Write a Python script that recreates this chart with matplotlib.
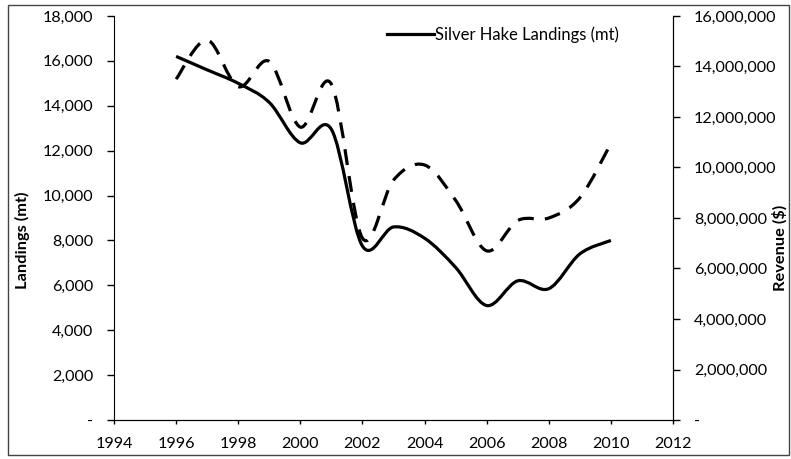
import numpy as np
import matplotlib
matplotlib.use("Agg")
import matplotlib.pyplot as plt
from matplotlib.path import Path
from matplotlib.patches import PathPatch, Rectangle
from matplotlib.lines import Line2D
from matplotlib.ticker import FuncFormatter

plt.rcParams['font.family'] = ['Lato', 'DejaVu Sans']

# data
years = [1996, 1997, 1998, 1999, 2000, 2001, 2002, 2003, 2004, 2005, 2006, 2007, 2008, 2009, 2010]
landings = [16200, 15600, 15000, 14150, 12350, 12950, 7750, 8600, 8100, 6800, 5100, 6200, 5850, 7400, 8000]
revenue = [13.5e6, 15.05e6, 13.2e6, 14.2e6, 11.6e6, 13.3e6, 7.2e6, 9.5e6, 10.1e6, 8.7e6, 6.7e6, 7.9e6, 8.0e6, 8.8e6, 10.95e6]
legend_label = "Silver Hake Landings (mt)"


def smooth_path(xs, ys):
    # excel style smoothed line: cubic bezier through every point
    pts = np.column_stack([xs, ys]).astype(float)
    n = len(pts)
    verts = [pts[0]]
    codes = [Path.MOVETO]
    for i in range(n - 1):
        p0 = pts[i - 1] if i > 0 else pts[i]
        p1 = pts[i]
        p2 = pts[i + 1]
        p3 = pts[i + 2] if i + 2 < n else pts[i + 1]
        c1 = p1 + (p2 - p0) / 6.0
        c2 = p2 - (p3 - p1) / 6.0
        verts += [c1, c2, p2]
        codes += [Path.CURVE4] * 3
    return Path(verts, codes)


W, H = 791, 459
fig = plt.figure(figsize=(W / 100, H / 100), dpi=100)
ax = fig.add_axes([114 / W, 1 - 420 / H, (673 - 114) / W, (420 - 16) / H])
ax2 = ax.twinx()

ax.set_xlim(1994, 2012)
ax.set_ylim(0, 18000)
ax2.set_ylim(0, 16e6)

ax.add_patch(PathPatch(smooth_path(years, landings), facecolor='none', edgecolor='black',
                       lw=2.3, transform=ax.transData, capstyle='butt'))
ax2.add_patch(PathPatch(smooth_path(years, revenue), facecolor='none', edgecolor='black',
                        lw=2.3, linestyle=(0, (5, 3.5)), transform=ax2.transData, capstyle='butt'))

fmt = FuncFormatter(lambda v, p: '-' if v == 0 else f"{int(v):,}")
ax.set_xticks(range(1994, 2013, 2))
ax.set_yticks(range(0, 18001, 2000))
ax2.set_yticks(np.arange(0, 16e6 + 1, 2e6))
ax.yaxis.set_major_formatter(fmt)
ax2.yaxis.set_major_formatter(fmt)

for a in (ax, ax2):
    a.spines['top'].set_visible(False)
    a.tick_params(labelsize=11.6, width=1)
ax.tick_params(axis='y', length=5, pad=10)
ax.tick_params(axis='x', length=3, pad=9)
ax2.tick_params(axis='y', length=5, pad=10)
ax2.spines['left'].set_visible(False)

fig.text(22 / W, 1 - 240 / H, "Landings (mt)", rotation=90, ha='center', va='center',
         fontsize=11.8, fontweight='bold')
fig.text(780 / W, 1 - 248 / H, "Revenue ($)", rotation=90, ha='center', va='center',
         fontsize=11.8, fontweight='bold')

handle = Line2D([], [], color='black', lw=2.3)
ax.legend([handle], [legend_label], loc='upper left', bbox_to_anchor=((387 - 114) / 559, 0.975),
          frameon=False, fontsize=12, handlelength=2.8, handletextpad=0.1,
          borderpad=0, borderaxespad=0)

fig.patches.append(Rectangle((8 / W, 1 - 455 / H), 781 / W, 450 / H, transform=fig.transFigure,
                             fill=False, edgecolor='#444444', lw=1))

fig.savefig("out.png", dpi=100)
